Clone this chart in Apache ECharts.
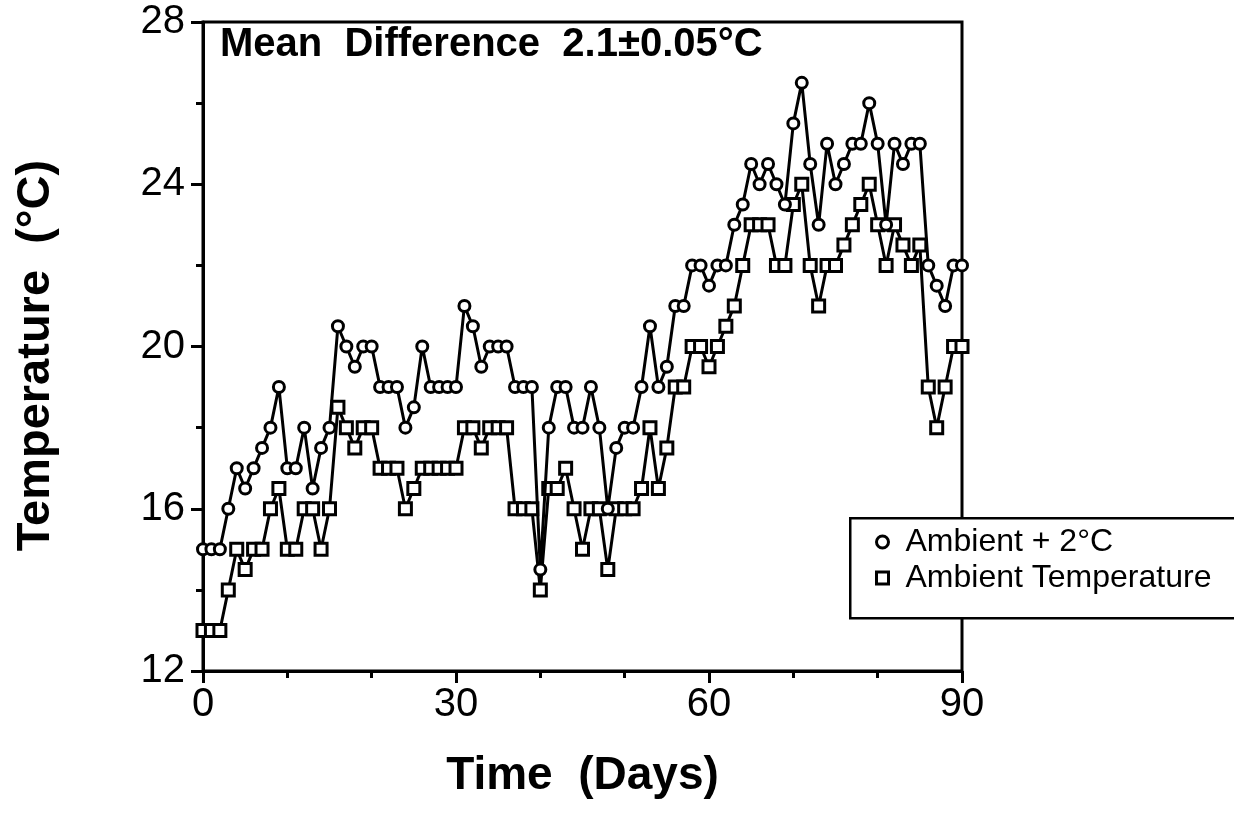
<!DOCTYPE html>
<html>
<head>
<meta charset="utf-8">
<script src="https://cdn.jsdelivr.net/npm/echarts@6/dist/echarts.min.js"></script>
<style>
html,body{margin:0;padding:0;background:#fff;}
#chart{width:1234px;height:833px;}
</style>
</head>
<body>
<div id="chart"></div>
<script>
// Day numbers (x values)
var days = [0,1,2,3,4,5,6,7,8,9,10,11,12,13,14,15,16,17,18,19,20,21,22,23,24,25,26,27,28,29,30,
  31,32,33,34,35,36,37,38,39,40,41,42,43,44,45,46,47,48,49,50,51,52,53,54,55,56,57,58,59,60,
  61,62,63,64,65,66,67,68,69,70,71,72,73,74,75,76,77,78,79,80,81,82,83,84,85,86,87,88,89,90];

// Ambient + 2°C (circles)
var warmed = [15,15,15,16,17,16.5,17,17.5,18,19,17,17,18,16.5,17.5,18,20.5,20,19.5,20,20,
  19,19,19,18,18.5,20,19,19,19,19,21,20.5,19.5,20,20,20,19,19,19,14.5,
  18,19,19,18,18,19,18,16,17.5,18,18,19,20.5,19,19.5,21,21,22,22,21.5,
  22,22,23,23.5,24.5,24,24.5,24,23.5,25.5,26.5,24.5,23,25,24,24.5,25,25,26,25,
  23,25,24.5,25,25,22,21.5,21,22,22];

// Ambient Temperature (squares)
var ambient = [13,13,13,14,15,14.5,15,15,16,16.5,15,15,16,16,15,16,18.5,18,17.5,18,18,
  17,17,17,16,16.5,17,17,17,17,17,18,18,17.5,18,18,18,16,16,16,14,
  16.5,16.5,17,16,15,16,16,14.5,16,16,16,16.5,18,16.5,17.5,19,19,20,20,19.5,
  20,20.5,21,22,23,23,23,22,22,23.5,24,22,21,22,22,22.5,23,23.5,24,23,
  22,23,22.5,22,22.5,19,18,19,20,20];

var seriesNames = ['Ambient + 2°C', 'Ambient Temperature'];
var xTickLabels = [0, 30, 60, 90];
var yTickLabels = [12, 16, 20, 24, 28];

function pairs(xs, ys){ return xs.map(function(x,i){ return [x, ys[i]]; }); }

var FONT = 'Liberation Sans, Arial, sans-serif';
var chart = echarts.init(document.getElementById('chart'), null, {renderer:'canvas'});
var markStyle = {color:'#fff', borderColor:'#000', borderWidth:3};

chart.setOption({
  animation:false,
  backgroundColor:'#fff',
  grid:{left:203, right:272, top:22, bottom:162, show:true, borderColor:'#000', borderWidth:3, backgroundColor:'transparent'},
  xAxis:{
    type:'value', min:xTickLabels[0], max:xTickLabels[xTickLabels.length-1], interval:30,
    name:'Time  (Days)', nameLocation:'middle', nameGap:82,
    nameTextStyle:{fontSize:46, fontWeight:'bold', color:'#000', fontFamily:FONT},
    axisLine:{lineStyle:{color:'#000', width:3}},
    axisTick:{show:true, inside:false, length:12, lineStyle:{color:'#000', width:3}},
    minorTick:{show:true, splitNumber:3, length:7, lineStyle:{color:'#000', width:3}},
    splitLine:{show:false}, minorSplitLine:{show:false},
    axisLabel:{fontSize:40, color:'#000', margin:14, fontFamily:FONT,
      formatter:function(v){ return xTickLabels.indexOf(v) >= 0 ? String(v) : ''; }}
  },
  yAxis:{
    type:'value', min:yTickLabels[0], max:yTickLabels[yTickLabels.length-1], interval:4,
    name:'Temperature  (°C)', nameLocation:'middle', nameGap:143, nameRotate:90,
    nameTextStyle:{fontSize:47, fontWeight:'bold', color:'#000', fontFamily:FONT, padding:[0,18,0,0]},
    axisLine:{show:true, lineStyle:{color:'#000', width:3}},
    axisTick:{show:true, inside:false, length:12, lineStyle:{color:'#000', width:3}},
    minorTick:{show:true, splitNumber:2, length:7, lineStyle:{color:'#000', width:3}},
    splitLine:{show:false}, minorSplitLine:{show:false},
    axisLabel:{fontSize:40, color:'#000', margin:18, fontFamily:FONT,
      formatter:function(v){ return yTickLabels.indexOf(v) >= 0 ? String(v) : ''; }}
  },
  legend:{
    orient:'vertical', left:870, top:521, z:120,
    itemWidth:12, itemHeight:12, itemGap:4,
    textStyle:{fontSize:32, color:'#000', fontFamily:FONT, padding:[0,0,0,12]},
    data:[
      {name:seriesNames[0], icon:'circle', itemStyle:{color:'#fff', borderColor:'#000', borderWidth:3}},
      {name:seriesNames[1], icon:'rect', itemStyle:{color:'#fff', borderColor:'#000', borderWidth:3}}
    ]
  },
  graphic:[
    {type:'rect', left:849, top:517, z:100, shape:{width:400, height:100},
      style:{fill:'#fff', stroke:'#000', lineWidth:2.5}},
    {type:'text', left:220, top:25, z:100,
      style:{text:'Mean  Difference  2.1±0.05°C', font:'bold 40px ' + FONT, fill:'#000'}}
  ],
  series:[
    {type:'line', name:seriesNames[0], data:pairs(days, warmed), symbol:'circle', symbolSize:11,
      showAllSymbol:true, lineStyle:{color:'#000', width:3}, itemStyle:markStyle, z:3},
    {type:'line', name:seriesNames[1], data:pairs(days, ambient), symbol:'rect', symbolSize:12,
      showAllSymbol:true, lineStyle:{color:'#000', width:3}, itemStyle:markStyle, z:2}
  ]
});
</script>
</body>
</html>
